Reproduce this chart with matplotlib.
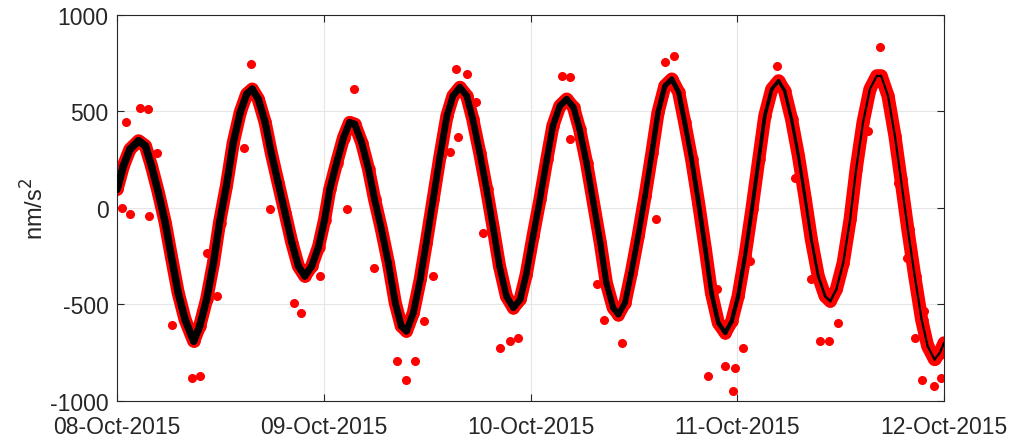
import matplotlib
matplotlib.use("Agg")
import matplotlib.pyplot as plt
from matplotlib.collections import LineCollection
import numpy as np

# hours since 08-Oct-2015 00:00, gravity tide (nm/s^2)
hours = [0.0, 0.74, 1.5, 2.5, 3.3, 4.0, 4.8, 5.6, 6.3, 7.1, 7.9, 8.9, 9.6, 10.4,
         11.2, 11.9, 12.7, 13.5, 14.3, 15.05, 15.7, 16.4, 17.2, 17.9, 18.7, 19.5,
         20.3, 21.05, 21.8, 22.6, 23.4, 24.1, 24.7, 25.5, 26.3, 27.0, 27.6, 28.4,
         29.2, 29.9, 30.7, 31.5, 32.3, 33.0, 33.6, 34.4, 35.2, 35.9, 36.7, 37.5,
         38.3, 39.0, 39.8, 40.6, 41.3, 42.1, 42.9, 43.7, 44.4, 45.2, 46.0, 46.8,
         47.5, 48.3, 49.1, 49.9, 50.6, 51.4, 52.2, 53.0, 53.7, 54.5, 55.3, 56.1,
         56.8, 57.6, 58.2, 58.97, 59.7, 60.5, 61.3, 62.1, 62.8, 63.6, 64.4, 65.2,
         65.9, 66.7, 67.5, 68.3, 69.0, 69.8, 70.6, 71.35, 72.1, 72.9, 73.7, 74.5,
         75.2, 76.0, 76.8, 77.5, 78.3, 79.1, 79.9, 80.6, 81.4, 82.2, 82.8, 83.5,
         84.3, 85.1, 85.8, 86.6, 87.4, 88.2, 88.7, 89.5, 90.3, 91.0, 91.8, 92.6,
         93.4, 94.1, 94.9, 95.5, 96.0]
tide = [97, 218, 304, 348, 322, 218, 80, -76, -249, -439, -578, -690, -612, -474,
        -284, -76, 114, 339, 495, 590, 616, 564, 443, 287, 131, -24,
        -180, -301, -353, -301, -200, -60, 97, 235, 365, 443, 434, 339,
        201, 45, -111, -284, -491, -612, -638, -543, -370, -180, 45, 270,
        478, 581, 625, 581, 460, 287, 97, -111, -301, -457, -517, -474,
        -345, -145, 45, 253, 426, 529, 564, 521, 408, 235, 28, -180,
        -388, -517, -552, -491, -336, -145, 62, 287, 495, 633, 668, 599,
        443, 253, 28, -215, -439, -595, -647, -587, -457, -249, -7, 253,
        478, 616, 659, 607, 460, 270, 45, -163, -353, -457, -483, -422,
        -284, -59, 201, 443, 616, 685, 685, 581, 374, 149, -111, -353,
        -578, -716, -785, -751, -699]

# isolated red samples
out_hours = [2.67, 3.65, 1.51, 3.75, 0.54, 15.6, 14.7, 17.8, 21.4, 8.7, 9.6, 6.35,
             10.4, 11.6, 20.5, 23.6, 1.1, 4.6, 27.5, 26.7, 29.8, 33.6, 32.5, 34.6,
             35.6, 36.7, 38.65, 39.6, 39.4, 40.6, 42.5, 44.5, 45.6, 46.6, 41.7,
             51.6, 52.6, 52.6, 62.6, 64.6, 63.6, 68.6, 71.5, 58.6, 56.5, 55.7,
             69.6, 70.6, 72.7, 71.7, 73.5, 78.7, 76.6, 81.6, 82.6, 83.7, 80.6,
             88.6, 87.2, 91.7, 92.6, 93.4, 94.8, 95.7, 90.7, 93.7]
out_vals = [516, 512, -33, -42, 2, 746, 313, -7, -543, -881, -872, -604,
            -232, -457, -491, -353, 443, 287, 619, -7, -310, -889, -794, -794,
            -587, -353, 291, 370, 720, 694, -128, -725, -690, -673, 547,
            685, 677, 356, -55, 789, 754, -872, -950, -699, -578, -396,
            -422, -820, -725, -829, -275, 157, 737, -690, -690, -595, -370,
            832, 400, -258, -673, -889, -924, -881, 131, -535]

day_labels = ['08-Oct-2015', '09-Oct-2015', '10-Oct-2015', '11-Oct-2015', '12-Oct-2015']

txt = '#262626'
plt.rcParams['font.family'] = ['Liberation Sans', 'DejaVu Sans']
plt.rcParams['axes.unicode_minus'] = False

fig = plt.figure(figsize=(10.21, 4.39), dpi=100)
ax = fig.add_axes([0.1146, 0.0843, 0.8100, 0.8793])

t = np.array(hours)
g = np.array(tide)

# red cloud: broad band plus individual samples
ax.plot(t, g, color='red', lw=9.5, solid_capstyle='round', solid_joinstyle='round', zorder=2)
ax.plot(t, g, 'o', color='red', ms=8, zorder=2)
ax.plot(out_hours, out_vals, 'o', color='red', ms=5.5, zorder=2)

# black curve, noisier (thicker) in the first days
pts = np.column_stack([t, g]).reshape(-1, 1, 2)
segs = np.concatenate([pts[:-1], pts[1:]], axis=1)
mid = 0.5 * (t[:-1] + t[1:])
widths = np.interp(mid, [0, 55, 72, 85, 96], [5.5, 4.5, 3.0, 1.6, 1.6])
ax.add_collection(LineCollection(segs, colors='black', linewidths=widths,
                                 capstyle='round', joinstyle='round', zorder=3))

ax.set_xlim(0, 96)
ax.set_ylim(-1000, 1000)
ax.set_xticks([0, 24, 48, 72, 96])
ax.set_xticklabels(day_labels)
ax.set_yticks([-1000, -500, 0, 500, 1000])
ax.set_ylabel('nm/s$^2$', fontsize=17, color=txt, labelpad=1)

ax.grid(True, color='#e6e6e6', lw=0.8)
ax.set_axisbelow(True)
ax.tick_params(direction='in', length=5, top=True, right=True, labelsize=16.5,
               colors=txt, width=0.8)
ax.tick_params(axis='x', pad=10)
ax.tick_params(axis='y', pad=6)
for s in ax.spines.values():
    s.set_color('#262626')
    s.set_linewidth(0.8)

fig.savefig('out.png', dpi=100)
